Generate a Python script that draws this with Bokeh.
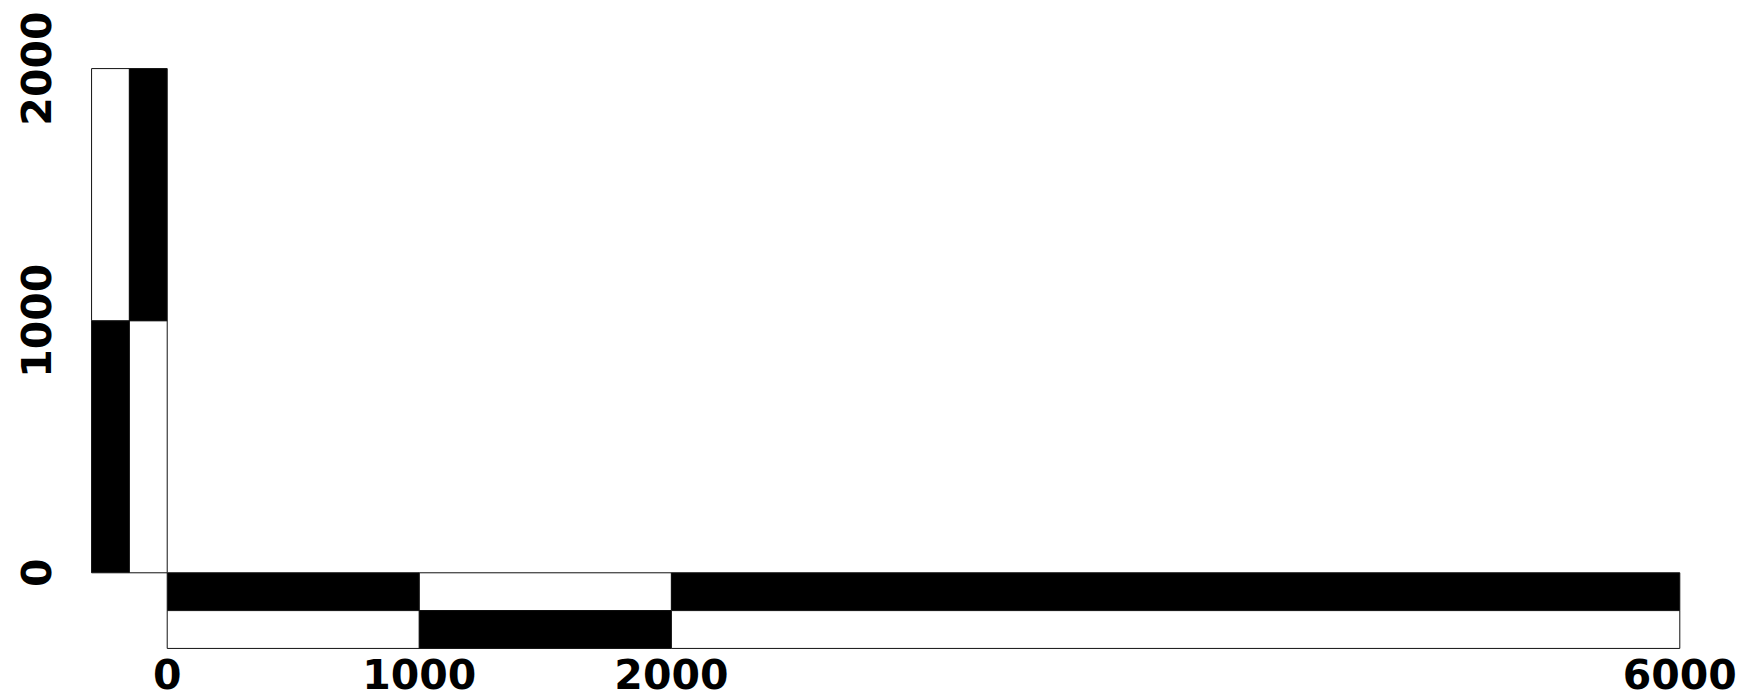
from bokeh.plotting import figure
from bokeh.models import Range1d, FixedTicker, ColumnDataSource
from bokeh.core.properties import value
from bokeh.embed import file_html
from bokeh.resources import INLINE

# ---- data ----
x_breaks = [0, 1000, 2000, 6000]          # horizontal scale-bar segment breaks
y_breaks = [0, 1000, 2000]                # vertical scale-bar segment breaks
x_tick_labels = ["0", "1000", "2000", "6000"]
y_tick_labels = ["0", "1000", "2000"]

# ---- style / size constants ----
BAR = 150                # bar row/column thickness in data units
FONT = "DejaVu Sans"
FSIZE = "41px"
DARK = "black"
LIGHT = "white"

# ---- build checkered cells ----
left, right, bottom, top, fill = [], [], [], [], []

# horizontal bar: two rows below y=0
for i in range(len(x_breaks) - 1):
    for row in range(2):
        left.append(x_breaks[i]); right.append(x_breaks[i + 1])
        top.append(-row * BAR); bottom.append(-(row + 1) * BAR)
        fill.append(DARK if (i + row) % 2 == 0 else LIGHT)

# vertical bar: two columns left of x=0
for j in range(len(y_breaks) - 1):
    for col in range(2):
        left.append(-(2 - col) * BAR); right.append(-(1 - col) * BAR)
        bottom.append(y_breaks[j]); top.append(y_breaks[j + 1])
        fill.append(DARK if (j + col) % 2 == 0 else LIGHT)

cells = ColumnDataSource(dict(left=left, right=right, bottom=bottom, top=top, fill=fill))

p = figure(width=1741, height=699,
           x_range=Range1d(-312.2, 6244.7), y_range=Range1d(-502.6, 2270.1),
           output_backend="svg", toolbar_location=None,
           x_axis_location=None, y_axis_location="left",
           min_border_left=88, min_border_right=0,
           min_border_top=0, min_border_bottom=0)
p.outline_line_color = None
p.grid.grid_line_color = None
p.background_fill_color = "white"
p.border_fill_color = "white"

p.quad(left="left", right="right", bottom="bottom", top="top", source=cells,
       fill_color="fill", line_color="#111111", line_width=1)

# y axis
ya = p.yaxis[0]
ya.ticker = FixedTicker(ticks=y_breaks)
ya.major_label_overrides = {v: t for v, t in zip(y_breaks, y_tick_labels)}
ya.axis_line_color = None
ya.major_tick_line_color = None
ya.minor_tick_line_color = None
ya.major_tick_out = 0
ya.major_tick_in = 0
ya.minor_tick_out = 0
ya.minor_tick_in = 0
ya.major_label_orientation = "vertical"
ya.major_label_text_font = FONT
ya.major_label_text_font_style = "bold"
ya.major_label_text_font_size = FSIZE
ya.major_label_text_color = "black"
ya.major_label_standoff = 37

# x tick labels below the horizontal bar
p.text(x=x_breaks, y=[-2 * BAR] * len(x_breaks), text=x_tick_labels,
       text_align="center", text_baseline="alphabetic", y_offset=26,
       text_font=value(FONT), text_font_style="bold", text_font_size=FSIZE,
       text_color="black")

open("out.html", "w").write(file_html(p, INLINE))
